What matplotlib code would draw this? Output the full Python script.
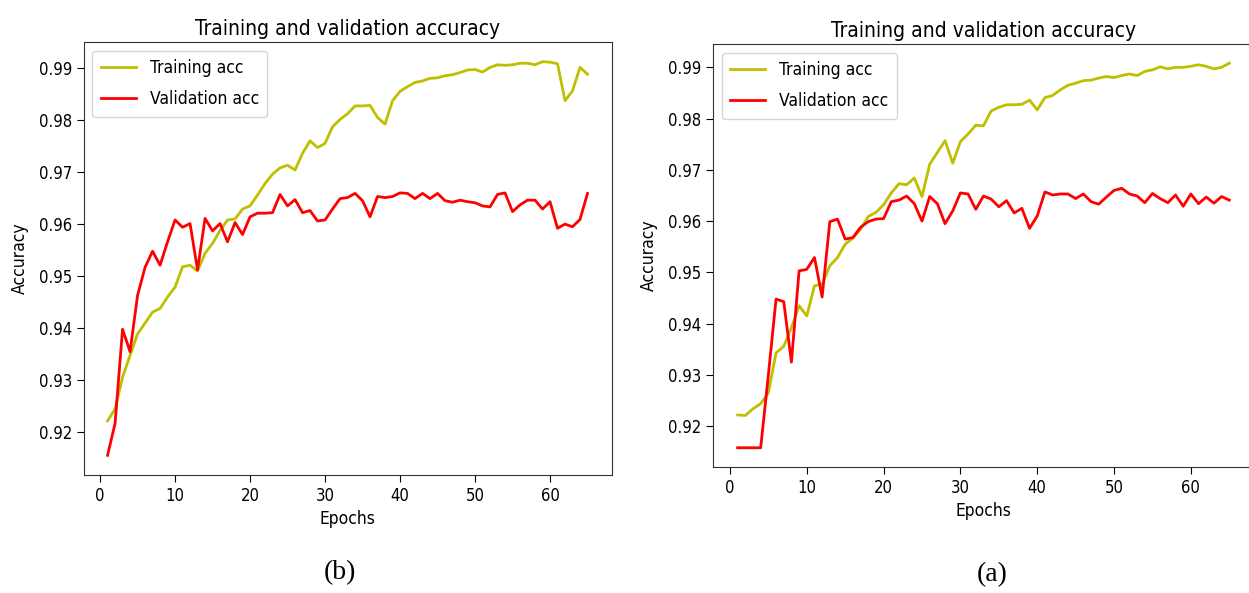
import matplotlib
matplotlib.use('Agg')
import matplotlib.pyplot as plt
import numpy as np

epochs = np.arange(1, 66)

# panel (b), drawn on the left
train_b = [0.9222, 0.9245, 0.9306, 0.9348, 0.9389, 0.9410, 0.9431, 0.9438, 0.9460, 0.9479,
           0.9518, 0.9521, 0.9510, 0.9544, 0.9563, 0.9588, 0.9608, 0.9610, 0.9629, 0.9635,
           0.9656, 0.9678, 0.9696, 0.9708, 0.9713, 0.9704, 0.9736, 0.9760, 0.9747, 0.9755,
           0.9787, 0.9801, 0.9812, 0.9827, 0.9827, 0.9828, 0.9805, 0.9792, 0.9837, 0.9855,
           0.9864, 0.9872, 0.9875, 0.9880, 0.9881, 0.9885, 0.9887, 0.9891, 0.9896, 0.9897,
           0.9892, 0.9901, 0.9906, 0.9905, 0.9906, 0.9909, 0.9909, 0.9906, 0.9912, 0.9911,
           0.9908, 0.9837, 0.9856, 0.9901, 0.9888]
val_b = [0.9156, 0.9217, 0.9398, 0.9355, 0.9463, 0.9517, 0.9548, 0.9521, 0.9566, 0.9608,
         0.9594, 0.9601, 0.9512, 0.9611, 0.9587, 0.9601, 0.9566, 0.9603, 0.9580, 0.9614,
         0.9621, 0.9621, 0.9622, 0.9657, 0.9635, 0.9647, 0.9622, 0.9626, 0.9606, 0.9608,
         0.9629, 0.9649, 0.9651, 0.9659, 0.9645, 0.9614, 0.9653, 0.9651, 0.9653, 0.9660,
         0.9659, 0.9649, 0.9659, 0.9649, 0.9659, 0.9645, 0.9642, 0.9646, 0.9643, 0.9641,
         0.9635, 0.9633, 0.9657, 0.9660, 0.9624, 0.9637, 0.9646, 0.9646, 0.9629, 0.9643,
         0.9592, 0.9600, 0.9595, 0.9609, 0.9659]

# panel (a), drawn on the right
train_a = [0.9222, 0.9221, 0.9234, 0.9244, 0.9265, 0.9343, 0.9356, 0.9392, 0.9435, 0.9415,
           0.9474, 0.9477, 0.9513, 0.9529, 0.9555, 0.9567, 0.9584, 0.9609, 0.9617, 0.9632,
           0.9655, 0.9673, 0.9671, 0.9684, 0.9648, 0.9711, 0.9734, 0.9757, 0.9713, 0.9755,
           0.9770, 0.9787, 0.9786, 0.9815, 0.9822, 0.9827, 0.9827, 0.9828, 0.9836, 0.9817,
           0.9841, 0.9845, 0.9856, 0.9865, 0.9869, 0.9874, 0.9875, 0.9879, 0.9882, 0.9880,
           0.9884, 0.9887, 0.9884, 0.9892, 0.9895, 0.9901, 0.9897, 0.9900, 0.9900, 0.9902,
           0.9905, 0.9902, 0.9897, 0.9900, 0.9908]
val_a = [0.9158, 0.9158, 0.9158, 0.9158, 0.9300, 0.9448, 0.9443, 0.9325, 0.9503, 0.9506,
         0.9529, 0.9452, 0.9599, 0.9604, 0.9565, 0.9568, 0.9588, 0.9599, 0.9604, 0.9605,
         0.9638, 0.9641, 0.9649, 0.9634, 0.9600, 0.9648, 0.9634, 0.9595, 0.9620, 0.9655,
         0.9653, 0.9623, 0.9649, 0.9643, 0.9628, 0.9640, 0.9616, 0.9625, 0.9586, 0.9610,
         0.9657, 0.9651, 0.9653, 0.9653, 0.9644, 0.9653, 0.9638, 0.9633, 0.9647, 0.9660,
         0.9664, 0.9653, 0.9649, 0.9636, 0.9654, 0.9644, 0.9636, 0.9651, 0.9629, 0.9653,
         0.9634, 0.9647, 0.9635, 0.9648, 0.9641]

plt.rcParams['font.family'] = ['DejaVu Sans']
plt.rcParams['font.stretch'] = 'condensed'

fig = plt.figure(figsize=(12.49, 5.93), dpi=100)
ax_b = fig.add_axes([0.0669, 0.199, 0.4227, 0.7302])
ax_a = fig.add_axes([0.5709, 0.2125, 0.4330, 0.7133])

for ax, tr, va in [(ax_b, train_b, val_b), (ax_a, train_a, val_a)]:
    ax.plot(epochs, tr, color='y', lw=2, label='Training acc')
    ax.plot(epochs, va, color='r', lw=2, label='Validation acc')
    ax.set_title('Training and validation accuracy', fontsize=15, pad=5)
    ax.set_xlabel('Epochs', fontsize=12.5)
    ax.set_ylabel('Accuracy', fontsize=12.5, labelpad=7)
    ax.tick_params(labelsize=12, length=5)
    ax.legend(loc='upper left', fontsize=12.5, labelspacing=0.75, borderpad=0.5)
    for s in ax.spines.values():
        s.set_color('#333333')

# the right panel runs off the edge of the picture
ax_a.spines['right'].set_visible(False)

fig.text(340 / 1249, 1 - 573 / 593, '(b)', family='Liberation Serif', fontsize=20,
         ha='center', va='center')
fig.text(992 / 1249, 1 - 575 / 593, '(a)', family='Liberation Serif', fontsize=20,
         ha='center', va='center')

fig.savefig('out.png', dpi=100)
